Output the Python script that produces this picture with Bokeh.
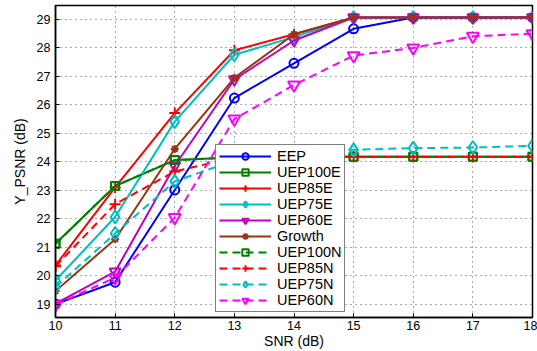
from bokeh.plotting import figure
from bokeh.models import Range1d, FixedTicker, Legend, LegendItem
from bokeh.embed import file_html
from bokeh.resources import INLINE

snr = [10, 11, 12, 13, 14, 15, 16, 17, 18]
eep     = [19.00, 19.77, 23.01, 26.24, 27.46, 28.67, 29.07, 29.07, 29.07]
uep100e = [21.12, 23.15, 24.06, 24.15, 24.18, 24.18, 24.18, 24.18, 24.18]
uep85e  = [20.36, 23.10, 25.71, 27.92, 28.48, 29.07, 29.07, 29.07, 29.07]
uep75e  = [19.83, 22.06, 25.41, 27.76, 28.38, 29.07, 29.07, 29.07, 29.07]
uep60e  = [19.02, 20.14, 23.86, 26.89, 28.26, 29.07, 29.07, 29.07, 29.07]
growth  = [19.46, 21.28, 24.45, 26.95, 28.48, 29.07, 29.07, 29.07, 29.07]
uep100n = [21.12, 23.15, 24.06, 24.15, 24.18, 24.18, 24.18, 24.18, 24.18]
uep85n  = [20.33, 22.51, 23.66, 24.15, 24.18, 24.18, 24.18, 24.18, 24.18]
uep75n  = [19.60, 21.48, 23.31, 24.05, 24.30, 24.42, 24.48, 24.50, 24.56]
uep60n  = [18.98, 19.93, 22.04, 25.50, 26.70, 27.73, 28.00, 28.41, 28.50]

x_ticks = [10, 11, 12, 13, 14, 15, 16, 17, 18]
y_ticks = [19, 20, 21, 22, 23, 24, 25, 26, 27, 28, 29]

FONT = "Liberation Sans"

p = figure(width=537, height=351, output_backend="svg", toolbar_location=None,
           x_range=Range1d(10, 18), y_range=Range1d(18.53, 29.49),
           min_border_left=55, min_border_right=5, min_border_top=5, min_border_bottom=34)
p.background_fill_color = "white"
p.border_fill_color = "white"
p.outline_line_color = "black"
p.outline_line_width = 1.5

for ax in (p.xaxis[0], p.yaxis[0]):
    ax.major_tick_in = 4
    ax.major_tick_out = 0
    ax.minor_tick_line_color = None
    ax.axis_line_width = 1.5
    ax.major_tick_line_width = 1
    ax.major_label_text_font = FONT
    ax.major_label_text_font_size = "12.5px"
    ax.major_label_text_color = "black"
    ax.axis_label_text_font = FONT
    ax.axis_label_text_font_size = "14px"
    ax.axis_label_text_font_style = "normal"
    ax.axis_label_text_color = "black"

p.xaxis.ticker = FixedTicker(ticks=x_ticks)
p.yaxis.ticker = FixedTicker(ticks=y_ticks)
p.xaxis.axis_label = "SNR (dB)"
p.yaxis.axis_label = "Y_PSNR (dB)"
p.xaxis.major_label_standoff = 3
p.xaxis.axis_label_standoff = 0
p.yaxis.major_label_standoff = 5
p.yaxis.axis_label_standoff = 6

p.xgrid.grid_line_color = "#555555"
p.ygrid.grid_line_color = "#555555"
p.xgrid.grid_line_dash = "1 4"
p.ygrid.grid_line_dash = "1 4"
p.xgrid.grid_line_width = 1
p.ygrid.grid_line_width = 1

series = [
    ("EEP", eep, "#0000FF", "solid", "circle", 9),
    ("UEP100E", uep100e, "#008000", "solid", "square", 8),
    ("UEP85E", uep85e, "#FF0000", "solid", "cross", 11),
    ("UEP75E", uep75e, "#00BFBF", "solid", "diamond", 13),
    ("UEP60E", uep60e, "#BF00BF", "solid", "inverted_triangle", 11),
    ("Growth", growth, "#993311", "solid", "asterisk", 8),
    ("UEP100N", uep100n, "#008000", "8 5", "square", 8),
    ("UEP85N", uep85n, "#FF0000", "8 5", "cross", 11),
    ("UEP75N", uep75n, "#00BFBF", "8 5", "diamond", 13),
    ("UEP60N", uep60n, "#FF00FF", "8 5", "inverted_triangle", 12),
]

items = []
for name, ys, color, dash, marker, size in series:
    ln = p.line(snr, ys, line_color=color, line_width=2, line_dash=dash)
    sc = p.scatter(snr, ys, marker=marker, size=size, line_color=color, line_width=2,
                   fill_color=None)
    items.append(LegendItem(label=name, renderers=[ln, sc]))

legend = Legend(items=items, location=(160, 5))
legend.label_text_font = FONT
legend.label_text_font_size = "14.5px"
legend.label_text_color = "black"
legend.glyph_width = 52
legend.glyph_height = 16
legend.label_height = 16
legend.spacing = 0
legend.padding = 3
legend.label_standoff = 6
legend.border_line_color = "black"
legend.border_line_width = 1.5
legend.background_fill_alpha = 1
legend.margin = 0
p.add_layout(legend, "center")

open("out.html", "w").write(file_html(p, INLINE))
